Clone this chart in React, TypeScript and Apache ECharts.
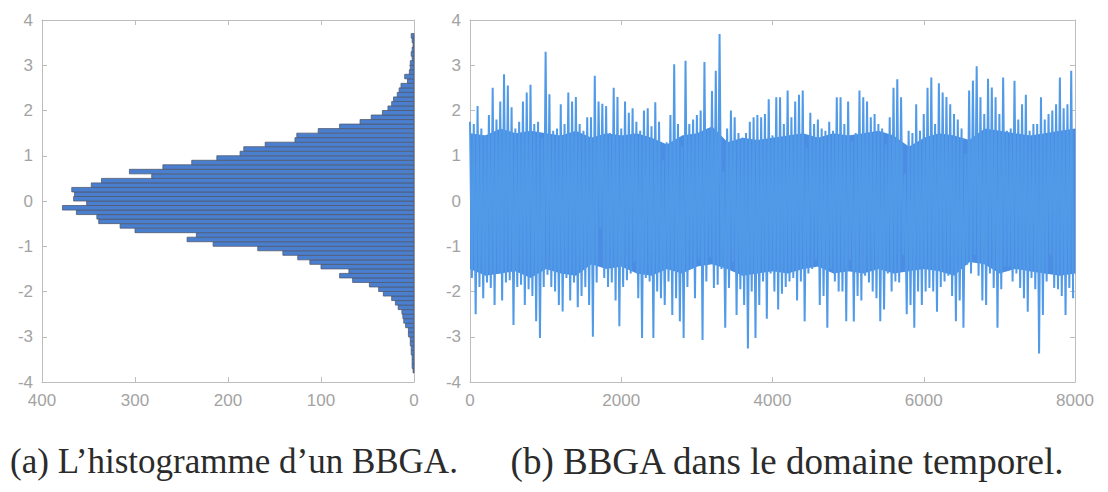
import React, { useEffect, useRef } from "react";
import * as echarts from "echarts";

// Histogram (panel a): bins of width 0.1 starting at -3.8, counts from bottom to top
const histStart = -3.8;
const histBinWidth = 0.1;
const histCounts = [
  1, 2, 2, 2, 3, 3, 4, 4, 6, 6,
  9, 11, 12, 13, 17, 20, 24, 33, 38, 48,
  66, 80, 70, 100, 112, 125, 141, 168, 216, 244,
  234, 300, 316, 339, 341, 363, 378, 352, 366, 365,
  368, 347, 336, 282, 306, 270, 239, 212, 187, 183,
  160, 128, 126, 103, 80, 58, 46, 34, 28, 24,
  22, 18, 16, 14, 7, 10, 5, 4, 4, 2,
  3, 2, 1, 2, 3,
];

// Time series (panel b): local peaks read every 50 samples (upper, then lower)
const sampleStep = 50;
const upperPeaks = [
  1.75, 1.7, 2.1, 1.6, 1.45, 1.9, 2.5, 1.8, 2.2, 2.8,
  2.55, 2.07, 1.6, 1.75, 2.2, 2.4, 2.57, 1.7, 1.75, 1.4,
  3.3, 2.36, 1.55, 1.6, 2.14, 1.7, 2.4, 2.2, 2.3, 1.7,
  1.55, 1.85, 1.85, 2.77, 2.2, 2.15, 2.1, 1.5, 2.5, 2.3,
  1.6, 2.2, 1.95, 2.05, 1.75, 1.55, 2.0, 2.05, 1.65, 2.18,
  1.75, 0.9, 1.3, 1.9, 3.02, 1.7, 1.2, 3.1, 1.7, 1.8,
  1.9, 2.0, 3.07, 1.6, 2.43, 2.88, 3.69, 0.65, 1.6, 2.0,
  1.85, 1.5, 1.4, 1.5, 1.75, 1.85, 1.9, 1.85, 1.92, 2.25,
  1.45, 2.29, 2.29, 1.7, 2.44, 1.85, 2.2, 2.35, 2.44, 1.18,
  1.95, 1.7, 1.8, 1.6, 1.55, 1.75, 1.55, 2.29, 2.29, 1.7,
  2.2, 1.33, 1.5, 2.44, 2.29, 2.2, 1.85, 1.92, 1.7, 1.6,
  1.25, 1.85, 2.5, 2.69, 2.29, 0.6, 1.55, 1.5, 2.14, 1.55,
  1.92, 2.5, 2.73, 1.7, 2.6, 2.4, 2.3, 2.14, 1.92, 1.8,
  1.6, 1.05, 2.44, 2.66, 2.98, 2.29, 1.92, 2.7, 2.51, 2.29,
  1.92, 2.73, 1.55, 1.6, 2.66, 1.8, 2.14, 2.35, 1.55, 1.7,
  1.7, 2.29, 1.8, 1.92, 2.0, 2.14, 2.73, 2.05, 2.14, 2.88,
];
const lowerPeaks = [
  -1.7, -2.5, -1.9, -2.15, -1.8, -1.92, -2.3, -1.6, -2.2, -1.8,
  -1.75, -2.74, -1.9, -1.85, -2.3, -1.95, -2.1, -2.66, -3.03, -1.9,
  -1.63, -1.9, -2.0, -2.3, -2.44, -1.7, -2.2, -1.8, -2.35, -2.1,
  -1.9, -2.3, -3.0, -1.8, -0.6, -1.7, -1.9, -1.8, -2.2, -2.77,
  -1.9, -1.75, -1.6, -1.33, -2.15, -3.03, -1.7, -1.78, -3.03, -2.0,
  -2.15, -2.3, -1.78, -2.52, -2.15, -2.66, -3.03, -1.9, -1.5, -2.15,
  -1.3, -3.07, -1.78, -1.25, -1.92, -1.85, -1.5, -2.8, -1.92, -1.35,
  -2.52, -1.95, -2.3, -3.26, -2.0, -3.03, -2.3, -1.78, -2.6, -1.6,
  -2.0, -2.4, -2.05, -1.9, -1.78, -1.7, -2.2, -1.78, -2.66, -1.6,
  -1.5, -1.3, -2.3, -2.1, -2.8, -1.5, -1.78, -2.0, -2.0, -2.66,
  -1.3, -2.66, -2.1, -2.2, -1.65, -1.8, -2.0, -2.15, -2.66, -2.4,
  -1.6, -2.0, -1.78, -1.8, -1.2, -2.5, -2.3, -2.8, -2.0, -2.3,
  -2.0, -1.92, -2.0, -2.45, -1.9, -1.78, -1.65, -2.1, -2.66, -2.2,
  -2.8, -1.41, -1.6, -1.2, -1.65, -2.2, -2.3, -1.6, -1.92, -2.8,
  -1.95, -1.45, -1.45, -1.78, -1.6, -1.92, -2.15, -2.45, -1.7, -1.95,
  -3.37, -2.52, -1.78, -1.2, -1.92, -1.95, -2.1, -2.52, -1.92, -2.15,
];

// Edges of the dense (solid) band, read every 200 samples from 0 to 8000
const coreStep = 200;
const coreTop = [
  1.5, 1.45, 1.6, 1.5, 1.55, 1.5, 1.45, 1.55, 1.4, 1.5,
  1.45, 1.5, 1.4, 1.25, 1.45, 1.5, 1.65, 1.3, 1.4, 1.35,
  1.4, 1.45, 1.5, 1.4, 1.5, 1.45, 1.5, 1.55, 1.45, 1.2,
  1.4, 1.5, 1.45, 1.35, 1.6, 1.55, 1.5, 1.45, 1.5, 1.55, 1.6,
];
const coreBottom = [
  -1.5, -1.65, -1.6, -1.55, -1.7, -1.5, -1.6, -1.65, -1.4, -1.5,
  -1.45, -1.6, -1.65, -1.5, -1.6, -1.45, -1.4, -1.5, -1.65, -1.6,
  -1.55, -1.6, -1.5, -1.45, -1.6, -1.55, -1.6, -1.5, -1.6, -1.55,
  -1.5, -1.55, -1.65, -1.35, -1.4, -1.6, -1.5, -1.55, -1.6, -1.65, -1.6,
];

const captionA = "(a) L\u2019histogramme d\u2019un BBGA.";
const captionB = "(b) BBGA dans le domaine temporel.";

const axisGray = "#bdbdbd";
const labelGray = "#a3a3a3";
const labelFont = { color: labelGray, fontSize: 17, fontFamily: "Liberation Sans" };
const coreBlue = "#4a8de3";
const spikeBlue = "#519ae8";

export default function App() {
  const ref = useRef<HTMLDivElement>(null);
  useEffect(() => {
    if (!ref.current) return;
    const chart = echarts.init(ref.current, null, { renderer: "svg" });

    const histData = histCounts.map((c, i) => [
      histStart + i * histBinWidth,
      histStart + (i + 1) * histBinWidth,
      c,
    ]);
    const zigzag: number[][] = [];
    upperPeaks.forEach((h, k) => {
      zigzag.push([k * sampleStep, h]);
      zigzag.push([k * sampleStep + sampleStep / 2, lowerPeaks[k]]);
    });
    const coreData = coreTop.slice(0, -1).map((t, k) => [
      k * coreStep, t, coreBottom[k], (k + 1) * coreStep, coreTop[k + 1], coreBottom[k + 1],
    ]);

    const common = {
      axisLine: { show: true, onZero: false, lineStyle: { color: axisGray, width: 1 } },
      axisTick: { show: true, inside: true, length: 5, lineStyle: { color: axisGray } },
      splitLine: { show: false },
    };
    const mirror = (extra: any) => ({ ...common, ...extra, axisLabel: { show: false } });

    chart.setOption({
      animation: false,
      backgroundColor: "#ffffff",
      grid: [
        { left: 42, top: 20, width: 372, height: 362, show: false },
        { left: 470, top: 20, width: 605, height: 362, show: false },
      ],
      xAxis: [
        {
          ...common, type: "value", gridIndex: 0, min: 0, max: 400, interval: 100, inverse: true,
          position: "bottom",
          axisLabel: { ...labelFont, margin: 10 },
        },
        mirror({ type: "value", gridIndex: 0, min: 0, max: 400, interval: 100, inverse: true, position: "top" }),
        {
          ...common, type: "value", gridIndex: 1, min: 0, max: 8000, interval: 2000,
          position: "bottom",
          axisLabel: { ...labelFont, margin: 10, formatter: (v: number) => String(v) },
        },
        mirror({ type: "value", gridIndex: 1, min: 0, max: 8000, interval: 2000, position: "top" }),
      ],
      yAxis: [
        {
          ...common, type: "value", gridIndex: 0, min: -4, max: 4, interval: 1, position: "left",
          axisLabel: { ...labelFont, margin: 9 },
        },
        mirror({ type: "value", gridIndex: 0, min: -4, max: 4, interval: 1, position: "right" }),
        {
          ...common, type: "value", gridIndex: 1, min: -4, max: 4, interval: 1, position: "left",
          axisLabel: { ...labelFont, margin: 9 },
        },
        mirror({ type: "value", gridIndex: 1, min: -4, max: 4, interval: 1, position: "right" }),
      ],
      series: [
        {
          type: "custom",
          xAxisIndex: 0,
          yAxisIndex: 0,
          data: histData,
          encode: { x: 2, y: [0, 1] },
          renderItem: (params: any, api: any) => {
            const p0 = api.coord([0, api.value(0)]);
            const p1 = api.coord([api.value(2), api.value(1)]);
            return {
              type: "rect",
              shape: {
                x: Math.min(p0[0], p1[0]),
                y: Math.min(p0[1], p1[1]),
                width: Math.abs(p1[0] - p0[0]),
                height: Math.abs(p1[1] - p0[1]),
              },
              style: { fill: "#4a7fd0", stroke: "#515a6e", lineWidth: 0.8 },
            };
          },
        },
        {
          type: "custom",
          xAxisIndex: 2,
          yAxisIndex: 2,
          data: coreData,
          encode: { x: [0, 3], y: [1, 2, 4, 5] },
          renderItem: (params: any, api: any) => {
            const a = api.coord([api.value(0), api.value(1)]);
            const b = api.coord([api.value(3), api.value(4)]);
            const c = api.coord([api.value(3), api.value(5)]);
            const d = api.coord([api.value(0), api.value(2)]);
            return {
              type: "polygon",
              shape: { points: [a, [b[0] + 0.5, b[1]], [c[0] + 0.5, c[1]], d] },
              style: { fill: coreBlue },
            };
          },
        },
        {
          type: "line",
          xAxisIndex: 2,
          yAxisIndex: 2,
          data: zigzag,
          showSymbol: false,
          symbol: "none",
          lineStyle: { color: spikeBlue, width: 2 },
        },
      ],
      graphic: [
        {
          type: "text",
          x: 234,
          y: 461,
          style: {
            text: captionA,
            fill: "#2b2b2b",
            font: "35px 'Liberation Serif'",
            align: "center",
            verticalAlign: "middle",
          },
        },
        {
          type: "text",
          x: 787,
          y: 461,
          style: {
            text: captionB,
            fill: "#2b2b2b",
            font: "37px 'Liberation Serif'",
            align: "center",
            verticalAlign: "middle",
          },
        },
      ],
    });
    return () => chart.dispose();
  }, []);
  return (
    <div
      ref={ref}
      style={{ position: "fixed", left: 0, top: 0, width: 1108, height: 492, background: "#fff" }}
    />
  );
}
